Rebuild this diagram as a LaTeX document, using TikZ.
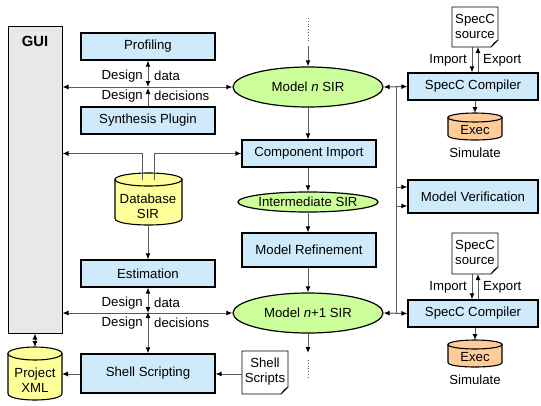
\documentclass[tikz,border=0pt]{standalone}
\usepackage{fontspec}
\setmainfont{Liberation Sans}
\usetikzlibrary{arrows.meta,shapes.geometric}
\definecolor{boxblue}{RGB}{206,234,251}
\definecolor{sirgreen}{RGB}{204,255,153}
\definecolor{dbyellow}{RGB}{255,255,153}
\definecolor{execorange}{RGB}{255,204,153}
\definecolor{guigray}{RGB}{232,232,232}
\definecolor{wire}{RGB}{90,90,90}

% cylinder: x0, y0, x1, y1, cap radius, fill colour
\newcommand{\cyldrum}[6]{%
  \filldraw[fill=#6, draw=black, line width=1.1pt]
    (#1,{#2+#5}) -- (#1,{#4-#5})
    .. controls (#1,{#4+0.333*#5}) and (#3,{#4+0.333*#5}) .. (#3,{#4-#5})
    -- (#3,{#2+#5}) -- cycle;
  \filldraw[fill=#6, draw=black, line width=1.1pt]
    ({(#1+#3)/2},{#2+#5}) ellipse [x radius={(#3-#1)/2}, y radius=#5];
}
% document sheet with folded corner: x0, y0, x1, y1
\newcommand{\docsheet}[4]{%
  \filldraw[fill=white, draw=black, line width=0.8pt]
    (#1,#2) -- (#3,#2) -- (#3,{#4-7}) -- ({#3-7},#4) -- (#1,#4) -- cycle;
  \filldraw[fill=black!35, draw=black, line width=0.6pt]
    (#3,{#4-7}) -- ({#3-4},{#4-4}) -- ({#3-7},#4) -- cycle;
}

\begin{document}
\begin{tikzpicture}[x=1pt, y=-1pt,
  font=\fontsize{13.2}{15}\selectfont,
  blockbox/.style={draw=black, fill=boxblue, line width=1.2pt, rectangle,
    inner sep=0pt, minimum width=134pt, minimum height=27pt},
  sirnode/.style={draw=black, fill=sirgreen, line width=1.2pt, ellipse,
    inner sep=0pt, minimum width=150pt, minimum height=40pt},
  plain/.style={inner sep=0pt, align=center},
  wirestyle/.style={draw=wire, line width=1pt},
  tip/.style={-{Latex[length=6pt,width=5pt,black]}},
  bitip/.style={{Latex[length=6pt,width=5pt,black]}-{Latex[length=6pt,width=5pt,black]}},
  lbl/.style={inner sep=0pt}
]
\useasboundingbox (0,0) rectangle (541,405);

% ---- GUI column ----
\node[draw=black, fill=guigray, line width=1pt, rectangle, inner sep=0pt,
  minimum width=54pt, minimum height=307pt] (gui) at (35,179.5) {};
\node[plain, font=\fontsize{14.8}{16}\selectfont\bfseries] (guilabel) at (35,41) {GUI};

% ---- left-hand tool boxes ----
\node[blockbox] (prof) at (148,46.5) {Profiling};
\node[blockbox] (synth) at (148,120.5) {Synthesis Plugin};
\node[blockbox] (est) at (148,273.5) {Estimation};
\node[blockbox, minimum height=39pt] (shell) at (148,373.5) {Shell Scripting};

% ---- central flow ----
\node[sirnode] (mn) at (308,87) {Model \textit{n} SIR};
\node[blockbox] (comp) at (309,153.5) {Component Import};
\node[sirnode, minimum width=120pt, minimum height=20pt] (inter) at (308,202) {Intermediate SIR};
\node[blockbox, minimum height=34pt] (refine) at (309,250) {Model Refinement};
\node[sirnode] (mn1) at (308,313) {Model \textit{n}+1 SIR};

% ---- right-hand tools ----
\node[blockbox, minimum width=130pt] (cc1) at (473,86.5) {SpecC Compiler};
\node[blockbox, minimum width=130pt, minimum height=33pt] (verif) at (473,196.5) {Model Verification};
\node[blockbox, minimum width=130pt] (cc2) at (473,313.5) {SpecC Compiler};

% ---- cylinders ----
\cyldrum{115}{173}{182}{225}{6.5}{dbyellow}
\node[plain] (db) at (148,206) {Database\\SIR};
\coordinate (dbtopL) at (142,180);
\coordinate (dbtopR) at (154,180);
\coordinate (dbbot) at (148,225);

\cyldrum{8}{347}{62}{400}{6.5}{dbyellow}
\node[plain] (xml) at (35,380) {Project\\XML};
\coordinate (xmltop) at (35,347);
\coordinate (xmlright) at (62,374);

\cyldrum{448}{113}{502}{140}{4.5}{execorange}
\node[plain] (exec1) at (475,130) {Exec};
\coordinate (exec1top) at (475,113);
\node[plain] (sim1) at (475,153) {Simulate};

\cyldrum{448}{340}{502}{367}{4.5}{execorange}
\node[plain] (exec2) at (475,357) {Exec};
\coordinate (exec2top) at (475,340);
\node[plain] (sim2) at (475,380) {Simulate};

% ---- document sheets ----
\docsheet{452}{7}{498}{47}
\node[plain] (src1) at (475,26) {SpecC\\source};
\coordinate (src1bot) at (475,47);

\docsheet{452}{233}{498}{274}
\node[plain] (src2) at (475,252.5) {SpecC\\source};
\coordinate (src2bot) at (475,274);

\docsheet{242}{351}{288}{394}
\node[plain] (scripts) at (265,372) {Shell\\Scripts};
\coordinate (scriptsleft) at (242,374);

% ---- design data / decisions (upper) ----
\coordinate (jn1) at (148,87);
\draw[wirestyle, bitip] (gui.east |- mn) -- (mn.west);
\draw[wirestyle, bitip] (prof.south) -- (jn1);
\draw[wirestyle, tip] (synth.north) -- ([yshift=-1pt]jn1);
\node[lbl, anchor=east] (dd1a) at (143,76) {Design};
\node[lbl, anchor=west] (dd1b) at (154,76) {data};
\node[lbl, anchor=east] (dd1c) at (143,96) {Design};
\node[lbl, anchor=west] (dd1d) at (154,96) {decisions};

% ---- design data / decisions (lower) ----
\coordinate (jn2) at (148,313);
\draw[wirestyle, bitip] (gui.east |- mn1) -- (mn1.west);
\draw[wirestyle, bitip] (est.south) -- (jn2);
\draw[wirestyle, bitip] ([yshift=1pt]jn2) -- (shell.north);
\node[lbl, anchor=east] (dd2a) at (143,303) {Design};
\node[lbl, anchor=west] (dd2b) at (154,303) {data};
\node[lbl, anchor=east] (dd2c) at (143,323) {Design};
\node[lbl, anchor=west] (dd2d) at (154,323) {decisions};

% ---- database links ----
\draw[wirestyle, tip] (dbtopL) |- (gui.east |- comp);
\draw[wirestyle, tip] (dbtopR) |- (comp.west);
\draw[wirestyle, tip] (dbbot) -- (est.north);

% ---- main refinement flow ----
\coordinate (topdots) at (308,18);
\coordinate (topdotsend) at (308,41);
\coordinate (topin) at (308,46);
\draw[wire, line width=0.8pt, dotted] (topdots) -- (topdotsend);
\draw[wirestyle, tip] (topin) -- (mn.north);
\draw[wirestyle, tip] (mn.south) -- (mn.south |- comp.north);
\draw[wirestyle, tip] (comp.south -| inter.north) -- (inter.north);
\draw[wirestyle, tip] (inter.south) -- (inter.south |- refine.north);
\draw[wirestyle, tip] (refine.south -| mn1.north) -- (mn1.north);
\coordinate (botout) at (308,353);
\coordinate (botdots) at (308,360);
\coordinate (botdotsend) at (308,378);
\draw[wirestyle, tip] (mn1.south) -- (botout);
\draw[wire, line width=0.8pt, dotted] (botdots) -- (botdotsend);

% ---- compiler and verification links ----
\draw[wirestyle, bitip] (mn.east) -- (cc1.west);
\draw[wirestyle, bitip] (mn1.east) -- (cc2.west);
\draw[wirestyle, tip] (396,87) |- ([yshift=-9.5pt]verif.west);
\draw[wirestyle, tip] (396,313) |- ([yshift=9.5pt]verif.west);

% ---- SpecC source import/export (upper) ----
\draw[wirestyle, tip] ([xshift=-3pt]src1bot) -- ([xshift=-3pt]src1bot |- cc1.north);
\draw[wirestyle, tip] ([xshift=3pt]src1bot |- cc1.north) -- ([xshift=3pt]src1bot);
\node[lbl, anchor=east] (imp1) at (467,60) {Import};
\node[lbl, anchor=west] (exp1) at (483,60) {Export};
\draw[wirestyle, tip] (cc1.south -| exec1top) -- (exec1top);

% ---- SpecC source import/export (lower) ----
\draw[wirestyle, tip] ([xshift=-3pt]src2bot) -- ([xshift=-3pt]src2bot |- cc2.north);
\draw[wirestyle, tip] ([xshift=3pt]src2bot |- cc2.north) -- ([xshift=3pt]src2bot);
\node[lbl, anchor=east] (imp2) at (467,287) {Import};
\node[lbl, anchor=west] (exp2) at (483,287) {Export};
\draw[wirestyle, tip] (cc2.south -| exec2top) -- (exec2top);

% ---- scripting and project file ----
\draw[wirestyle, tip] (scriptsleft) -- (scriptsleft -| shell.east);
\draw[wirestyle, tip] (shell.west |- xmlright) -- (xmlright);
\draw[wirestyle, bitip] (gui.south) -- (xmltop);
\end{tikzpicture}
\end{document}
